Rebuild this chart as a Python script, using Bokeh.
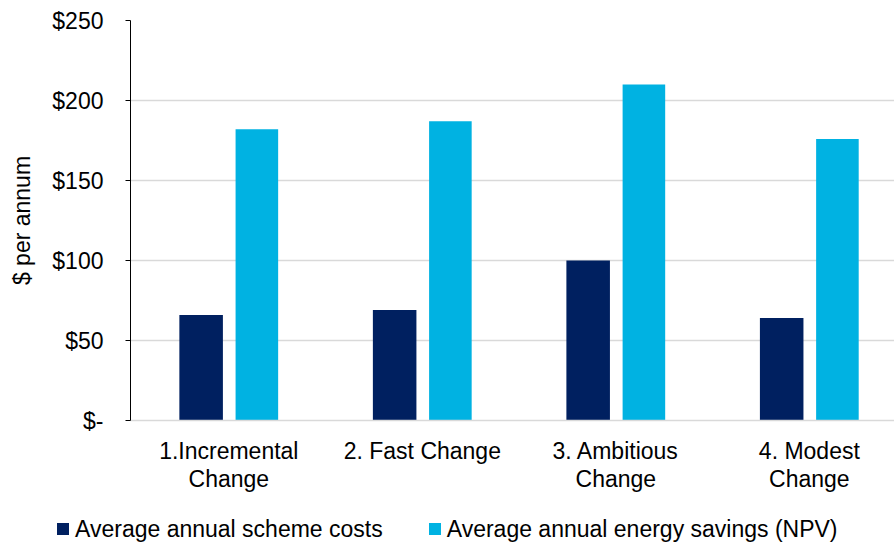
from bokeh.plotting import figure
from bokeh.models import ColumnDataSource, Range1d, FixedTicker, Div
from bokeh.layouts import column
from bokeh.transform import dodge
from bokeh.embed import file_html
from bokeh.resources import INLINE

categories = ["1.Incremental\nChange", "2. Fast Change", "3. Ambitious\nChange", "4. Modest\nChange"]
scheme_costs = [66, 69, 100, 64]
energy_savings = [182, 187, 210, 176]
y_ticks = [0, 50, 100, 150, 200, 250]
y_tick_labels = ["$-", "$50", "$100", "$150", "$200", "$250"]
series_names = ["Average annual scheme costs", "Average annual energy savings (NPV)"]

FONT = "Liberation Sans"
FS = "23px"
DARK = "#002060"
LIGHT = "#00B2E2"

src = ColumnDataSource(dict(x=list(range(len(categories))), cost=scheme_costs, save=energy_savings))

p = figure(frame_width=764, frame_height=400, output_backend="svg", toolbar_location=None,
           x_range=Range1d(-0.508, 3.44), y_range=Range1d(0, 250),
           min_border_left=130, min_border_right=0, min_border_top=20, min_border_bottom=70)
p.outline_line_color = None
p.background_fill_color = "white"

r1 = p.vbar(x=dodge("x", -0.143, range=p.x_range), top="cost", width=0.225, source=src,
            fill_color=DARK, line_color=None)
r2 = p.vbar(x=dodge("x", 0.145, range=p.x_range), top="save", width=0.22, source=src,
            fill_color=LIGHT, line_color=None)

# y axis
ya = p.yaxis[0]
ya.ticker = FixedTicker(ticks=y_ticks)
ya.major_label_overrides = {t: l for t, l in zip(y_ticks, y_tick_labels)}
ya.axis_line_color = "black"
ya.major_tick_line_color = "black"
ya.major_tick_out = 5
ya.major_tick_in = 0
ya.minor_tick_line_color = None
ya.major_label_standoff = 22
ya.major_label_text_font = FONT
ya.major_label_text_font_size = FS
ya.major_label_text_color = "black"
ya.axis_label = "$ per annum"
ya.axis_label_text_font = FONT
ya.axis_label_text_font_size = FS
ya.axis_label_text_font_style = "normal"
ya.axis_label_text_color = "black"
ya.axis_label_standoff = 14

# x axis
xa = p.xaxis[0]
xa.ticker = FixedTicker(ticks=list(range(len(categories))))
xa.major_label_overrides = {i: c for i, c in enumerate(categories)}
xa.axis_line_color = "#D9D9D9"
xa.axis_line_width = 1.5
xa.major_tick_line_color = None
xa.major_tick_out = 0
xa.major_tick_in = 0
xa.minor_tick_line_color = None
xa.minor_tick_out = 0
xa.major_label_standoff = 17
xa.major_label_text_font = FONT
xa.major_label_text_font_size = FS
xa.major_label_text_color = "black"
xa.major_label_text_line_height = 1.1

p.xgrid.grid_line_color = None
p.ygrid.ticker = FixedTicker(ticks=y_ticks[1:])
p.ygrid.grid_line_color = "#D9D9D9"
p.ygrid.grid_line_width = 1.5

# legend strip below the chart (HTML text, one swatch per series)
def swatch(color):
    return ('<span style="display:inline-block;width:12px;height:12px;'
            f'background:{color};margin-right:6px;vertical-align:middle;'
            'position:relative;top:-2px;"></span>')

legend_html = (
    f'<div style="font-family:\'{FONT}\';font-size:{FS};color:black;white-space:nowrap;'
    'padding-left:57px;padding-top:22px;line-height:24px;">'
    f'{swatch(DARK)}<span>{series_names[0]}</span>'
    '<span style="display:inline-block;width:46px;"></span>'
    f'{swatch(LIGHT)}<span>{series_names[1]}</span>'
    '</div>'
)
lg = Div(text=legend_html, width=894, height=50, margin=0)

layout = column(p, lg, spacing=0)
open("out.html", "w").write(file_html(layout, INLINE))
